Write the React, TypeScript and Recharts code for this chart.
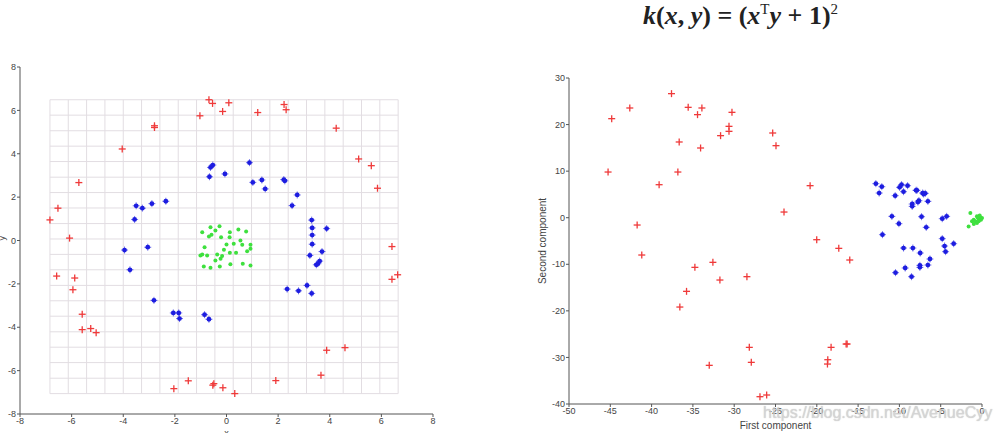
import { ScatterChart, Scatter, XAxis, YAxis, ReferenceLine } from 'recharts';

// left plot: original space
const leftTicks = [-8, -6, -4, -2, 0, 2, 4, 6, 8];
const gridX = [-6.84, -6.13, -5.42, -4.71, -4.0, -3.29, -2.58, -1.87, -1.16, -0.45, 0.26, 0.97, 1.68, 2.39, 3.1, 3.81, 4.52, 5.23, 5.94, 6.65];
const gridY = [-7.06, -6.35, -5.63, -4.92, -4.21, -3.49, -2.78, -2.07, -1.35, -0.64, 0.07, 0.78, 1.5, 2.21, 2.92, 3.64, 4.35, 5.06, 5.78, 6.49];

const redLeft = [
  { x: -0.68, y: 6.49 }, { x: -0.54, y: 6.32 }, { x: 0.09, y: 6.35 }, { x: -0.15, y: 5.95 },
  { x: -1.03, y: 5.75 }, { x: 1.21, y: 5.9 }, { x: 2.23, y: 6.27 }, { x: 2.31, y: 6.03 },
  { x: -2.79, y: 5.29 }, { x: -2.79, y: 5.21 }, { x: 4.25, y: 5.18 }, { x: -4.04, y: 4.22 },
  { x: 5.12, y: 3.76 }, { x: 5.61, y: 3.45 }, { x: 5.85, y: 2.41 }, { x: -5.72, y: 2.67 },
  { x: -6.53, y: 1.49 }, { x: -6.84, y: 0.95 }, { x: -6.08, y: 0.11 }, { x: 6.41, y: -0.28 },
  { x: 6.63, y: -1.58 }, { x: 6.41, y: -1.79 }, { x: -6.58, y: -1.64 }, { x: -5.88, y: -1.73 },
  { x: -5.95, y: -2.27 }, { x: -5.59, y: -3.4 }, { x: -5.59, y: -4.11 }, { x: -5.26, y: -4.06 },
  { x: -5.05, y: -4.25 }, { x: 3.88, y: -5.06 }, { x: 4.59, y: -4.94 }, { x: 3.66, y: -6.21 },
  { x: 1.91, y: -6.46 }, { x: -1.48, y: -6.47 }, { x: -0.53, y: -6.67 }, { x: -0.49, y: -6.6 },
  { x: -2.04, y: -6.83 }, { x: -0.14, y: -6.79 }, { x: 0.32, y: -7.06 },
];

const blueLeft = [
  { x: -0.62, y: 3.37 }, { x: -0.53, y: 3.48 }, { x: -0.66, y: 2.94 }, { x: -0.06, y: 3.07 },
  { x: 0.89, y: 3.59 }, { x: 1.02, y: 2.68 }, { x: 1.37, y: 2.79 }, { x: 1.5, y: 2.38 },
  { x: 2.22, y: 2.81 }, { x: 2.26, y: 2.75 }, { x: 2.74, y: 2.1 }, { x: 2.54, y: 1.61 },
  { x: -2.35, y: 1.81 }, { x: -2.89, y: 1.7 }, { x: -3.5, y: 1.6 }, { x: -3.26, y: 1.49 },
  { x: -3.56, y: 0.97 }, { x: 3.3, y: 0.94 }, { x: 3.32, y: 0.58 }, { x: 3.88, y: 0.55 },
  { x: 3.32, y: 0.25 }, { x: 3.32, y: -0.17 }, { x: 3.7, y: -0.51 }, { x: 3.23, y: -0.69 },
  { x: 3.61, y: -0.95 }, { x: 3.54, y: -1.07 }, { x: 3.48, y: -1.12 }, { x: -3.95, y: -0.44 },
  { x: -3.05, y: -0.31 }, { x: -3.74, y: -1.35 }, { x: 3.12, y: -2.07 }, { x: 2.35, y: -2.24 },
  { x: 2.79, y: -2.32 }, { x: 3.3, y: -2.44 }, { x: -2.81, y: -2.76 }, { x: -2.06, y: -3.34 },
  { x: -1.85, y: -3.34 }, { x: -1.82, y: -3.6 }, { x: -0.85, y: -3.42 }, { x: -0.68, y: -3.63 },
];

const greenLeft = [
  { x: -0.94, y: 0.38 }, { x: -0.62, y: 0.61 }, { x: -0.43, y: 0.46 }, { x: -0.68, y: 0.18 },
  { x: -0.58, y: 0.26 }, { x: -0.27, y: 0.66 }, { x: -0.21, y: 0.15 }, { x: 0.13, y: 0.38 },
  { x: 0.12, y: 0.15 }, { x: 0.46, y: 0.51 }, { x: 0.76, y: 0.41 }, { x: 0.54, y: 0.0 },
  { x: -0.85, y: -0.31 }, { x: 0.0, y: -0.18 }, { x: 0.28, y: -0.15 }, { x: 0.61, y: -0.2 },
  { x: 0.93, y: -0.2 }, { x: 0.93, y: -0.38 }, { x: 0.8, y: -0.49 }, { x: -0.1, y: -0.43 },
  { x: -0.36, y: -0.64 }, { x: -0.17, y: -0.71 }, { x: 0.13, y: -0.57 }, { x: 0.37, y: -0.57 },
  { x: -0.23, y: -0.84 }, { x: -0.43, y: -0.92 }, { x: -1.01, y: -0.69 }, { x: -0.94, y: -0.64 },
  { x: -0.75, y: -0.69 }, { x: -0.88, y: -1.2 }, { x: -0.62, y: -1.26 }, { x: -0.26, y: -1.2 },
  { x: 0.15, y: -1.1 }, { x: 0.63, y: -1.07 }, { x: 0.93, y: -1.15 },
];

// right plot: kernel PCA projection
const rightXTicks = [-50, -45, -40, -35, -30, -25, -20, -15, -10, -5, 0];
const rightYTicks = [-40, -30, -20, -10, 0, 10, 20, 30];

const redRight = [
  { x: -37.59, y: 26.64 }, { x: -42.64, y: 23.56 }, { x: -35.57, y: 23.7 }, { x: -33.91, y: 23.56 },
  { x: -30.27, y: 22.63 }, { x: -34.44, y: 22.13 }, { x: -44.83, y: 21.27 }, { x: -30.63, y: 19.62 },
  { x: -30.63, y: 18.55 }, { x: -31.65, y: 17.62 }, { x: -25.34, y: 18.19 }, { x: -24.94, y: 15.47 },
  { x: -36.66, y: 16.26 }, { x: -34.07, y: 14.97 }, { x: -45.27, y: 9.81 }, { x: -36.82, y: 9.81 },
  { x: -39.09, y: 7.09 }, { x: -20.81, y: 6.88 }, { x: -23.97, y: 1.22 }, { x: -41.75, y: -1.57 },
  { x: -41.19, y: -8.01 }, { x: -20.01, y: -4.72 }, { x: -17.34, y: -6.58 }, { x: -16.01, y: -9.08 },
  { x: -32.58, y: -9.58 }, { x: -34.76, y: -10.66 }, { x: -28.46, y: -12.66 }, { x: -31.73, y: -13.38 },
  { x: -35.77, y: -15.81 }, { x: -36.58, y: -19.18 }, { x: -28.17, y: -27.84 }, { x: -18.27, y: -27.84 },
  { x: -16.45, y: -27.12 }, { x: -16.33, y: -27.12 }, { x: -27.93, y: -31.06 }, { x: -18.67, y: -30.49 },
  { x: -18.71, y: -31.42 }, { x: -33.02, y: -31.7 }, { x: -26.88, y: -38.43 }, { x: -26.07, y: -38.07 },
];

const blueRight = [
  { x: -12.85, y: 7.31 }, { x: -12.13, y: 6.66 }, { x: -12.45, y: 5.3 }, { x: -9.98, y: 6.52 },
  { x: -9.74, y: 7.09 }, { x: -9.01, y: 6.88 }, { x: -9.5, y: 5.59 }, { x: -10.51, y: 4.73 },
  { x: -7.99, y: 5.88 }, { x: -7.88, y: 5.88 }, { x: -7.19, y: 5.3 }, { x: -6.87, y: 5.23 },
  { x: -7.07, y: 5.09 }, { x: -7.64, y: 3.66 }, { x: -7.76, y: 3.37 }, { x: -6.55, y: 3.52 },
  { x: -8.45, y: 2.94 }, { x: -8.45, y: 2.44 }, { x: -10.91, y: 0.29 }, { x: -7.32, y: 0.22 },
  { x: -10.06, y: -1.28 }, { x: -4.81, y: -0.21 }, { x: -4.28, y: 0.29 }, { x: -6.75, y: -2.07 },
  { x: -12.05, y: -3.64 }, { x: -4.81, y: -4.5 }, { x: -4.53, y: -6.08 }, { x: -3.43, y: -5.58 },
  { x: -9.5, y: -6.51 }, { x: -8.37, y: -6.51 }, { x: -7.48, y: -7.58 }, { x: -4.41, y: -7.29 },
  { x: -6.3, y: -8.87 }, { x: -7.52, y: -10.23 }, { x: -7.52, y: -10.66 }, { x: -6.55, y: -10.16 },
  { x: -9.3, y: -10.8 }, { x: -10.47, y: -11.8 }, { x: -8.53, y: -12.66 },
];

const greenRight = [
  { x: -1.41, y: 1.0 }, { x: -1.62, y: -1.86 }, { x: -1.21, y: -0.78 }, { x: -1.0, y: -0.43 },
  { x: -0.61, y: 0.29 }, { x: -0.4, y: -0.21 }, { x: -0.2, y: 0.07 }, { x: -0.8, y: -0.78 },
  { x: -0.61, y: -1.14 }, { x: 0, y: -0.07 }, { x: -0.28, y: 0.5 }, { x: -0.12, y: -0.43 },
  { x: -0.99, y: -1.35 }, { x: -0.4, y: -0.78 }, { x: -0.52, y: 0.07 },
];

const RED = '#ef3a3a';
const BLUE = '#1d1de0';
const GREEN = '#3ee03e';
const AXIS = '#555';
const SANS = 'Liberation Sans, Arial, sans-serif';

const PlusMark = (props: any) => {
  const { cx, cy } = props;
  return (
    <g stroke={RED} strokeWidth={1.3}>
      <line x1={cx - 3.5} y1={cy} x2={cx + 3.5} y2={cy} />
      <line x1={cx} y1={cy - 3.5} x2={cx} y2={cy + 3.5} />
    </g>
  );
};

const StarMark = (props: any) => {
  const { cx, cy } = props;
  return (
    <g>
      <g stroke={BLUE} strokeWidth={1} opacity={0.6}>
        <line x1={cx - 3.5} y1={cy} x2={cx + 3.5} y2={cy} />
        <line x1={cx} y1={cy - 3.5} x2={cx} y2={cy + 3.5} />
      </g>
      <circle cx={cx} cy={cy} r={2.4} fill={BLUE} />
    </g>
  );
};

const DotMark = (props: any) => {
  const { cx, cy } = props;
  return <circle cx={cx} cy={cy} r={2} fill={GREEN} />;
};

const tickStyle = { fontSize: 9, fill: '#444', fontFamily: SANS };
const sup = { fontSize: 15, fontWeight: 'normal' as const, fontStyle: 'normal' as const };

export default function App() {
  return (
    <div style={{ position: 'absolute', left: 0, top: 0, width: 1003, height: 433, background: '#fff', overflow: 'hidden' }}>
      <div
        style={{
          position: 'absolute', left: 643, top: 1, fontFamily: 'Liberation Serif, serif', fontSize: 26,
          fontWeight: 'bold', color: '#222', whiteSpace: 'nowrap',
        }}
      >
        <i>k</i>(<i>x</i>,&nbsp;<i>y</i>)&nbsp;=&nbsp;(<i>x</i><sup style={sup}>T</sup><i>y</i>&nbsp;+&nbsp;1)<sup style={sup}>2</sup>
      </div>

      <div style={{ position: 'absolute', left: 0, top: 0 }}>
        <ScatterChart width={450} height={433} margin={{ top: 67, right: 17, bottom: 0, left: 0 }}>
          <XAxis
            type="number" dataKey="x" domain={[-8, 8]} ticks={leftTicks} height={19}
            stroke={AXIS} tickSize={3} tickMargin={1} tick={tickStyle}
            label={{ value: 'x', position: 'insideBottom', offset: -3, fontSize: 9, fill: '#444', fontFamily: SANS }}
          />
          <YAxis
            type="number" dataKey="y" domain={[-8, 8]} ticks={leftTicks} width={20}
            stroke={AXIS} tickSize={3} tickMargin={1} tick={tickStyle}
            label={{ value: 'y', angle: -90, position: 'insideLeft', offset: 2, fontSize: 9, fill: '#444', fontFamily: SANS }}
          />
          {gridX.map((v) => (
            <ReferenceLine key={'gx' + v} segment={[{ x: v, y: gridY[0] }, { x: v, y: gridY[gridY.length - 1] }]} stroke="#e2dde2" strokeWidth={1} />
          ))}
          {gridY.map((v) => (
            <ReferenceLine key={'gy' + v} segment={[{ x: gridX[0], y: v }, { x: gridX[gridX.length - 1], y: v }]} stroke="#e2dde2" strokeWidth={1} />
          ))}
          <Scatter data={redLeft} shape={PlusMark} isAnimationActive={false} />
          <Scatter data={blueLeft} shape={StarMark} isAnimationActive={false} />
          <Scatter data={greenLeft} shape={DotMark} isAnimationActive={false} />
        </ScatterChart>
      </div>

      <div style={{ position: 'absolute', left: 530, top: 0 }}>
        <ScatterChart width={473} height={433} margin={{ top: 78, right: 21, bottom: 4, left: 0 }}>
          <XAxis
            type="number" dataKey="x" domain={[-50, 0]} ticks={rightXTicks} height={25}
            stroke={AXIS} tickSize={3} tickMargin={1} tick={tickStyle}
            label={{ value: 'First component', position: 'insideBottom', offset: 0, fontSize: 10, fill: '#444', fontFamily: SANS }}
          />
          <YAxis
            type="number" dataKey="y" domain={[-40, 30]} ticks={rightYTicks} width={39}
            stroke={AXIS} tickSize={3} tickMargin={1} tick={tickStyle}
            label={{ value: 'Second component', angle: -90, position: 'insideLeft', offset: 12, fontSize: 10, fill: '#444', fontFamily: SANS, style: { textAnchor: 'middle' } }}
          />
          <Scatter data={redRight} shape={PlusMark} isAnimationActive={false} />
          <Scatter data={blueRight} shape={StarMark} isAnimationActive={false} />
          <Scatter data={greenRight} shape={DotMark} isAnimationActive={false} />
        </ScatterChart>
      </div>

      <div
        style={{
          position: 'absolute', left: 763, top: 404, fontFamily: SANS, fontSize: 16,
          color: 'rgba(215,215,215,0.85)', whiteSpace: 'nowrap', textShadow: '0 0 1px rgba(150,150,150,0.6)',
        }}
      >
        https://blog.csdn.net/AvenueCyy
      </div>
    </div>
  );
}
